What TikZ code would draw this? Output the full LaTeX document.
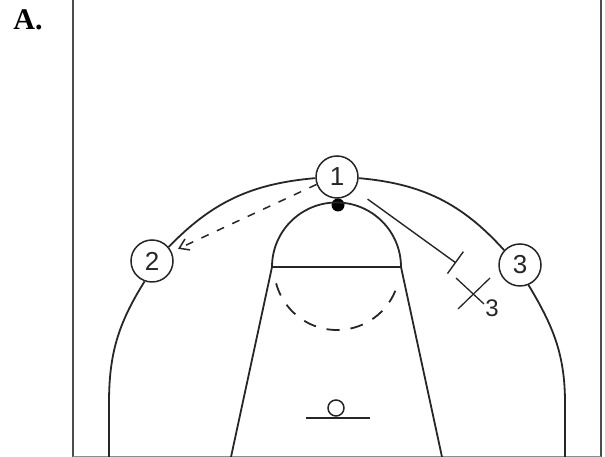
\documentclass[tikz,border=0pt]{standalone}
\usepackage{fontspec}
\setmainfont{Liberation Serif}
\newfontfamily\digitfont{Liberation Sans}
\usepackage{xcolor}
\usetikzlibrary{arrows.meta}

\begin{document}
\begin{tikzpicture}[
  x=1pt, y=1pt,
  player/.style={draw, circle, line width=1.5pt, black!85, minimum size=42pt, inner sep=0pt,
                 font=\digitfont\fontsize{26}{26}\selectfont},
  court/.style={line width=1.8pt, black!85},
  frame/.style={line width=2.4pt, black!70},
  pass/.style={-{Straight Barb[length=9pt,width=12pt]}, line width=1.5pt, black!85, dash pattern=on 8pt off 9pt},
  screen/.style={-{Bar[width=27pt]}, line width=1.4pt, black!85},
  defender/.style={line width=1.3pt, black!85}
]
\useasboundingbox (0,0) rectangle (605,457);

\node[font=\bfseries\fontsize{30}{30}\selectfont] (title) at (28,437) {A.};
\node[player] (one) at (337,280) {1};
\node[player] (two) at (152,196) {2};
\node[player] (three) at (520,192) {3};
\node[font=\digitfont\fontsize{24}{24}\selectfont, inner sep=0pt, black!85] (mark) at (492,149) {3};
\node[circle, fill=black, minimum size=13pt, inner sep=0pt] (ball) at (338,252) {};
\node[draw, circle, line width=1.5pt, black!85, minimum size=16pt, inner sep=0pt] (hoop) at (336,49) {};

\coordinate (leftbase) at (109,0);
\coordinate (leftside) at (109,54);
\coordinate (rightbase) at (565,0);
\coordinate (rightside) at (565,54);
\coordinate (laneleft) at (272,190);
\coordinate (laneright) at (401,190);
\coordinate (lanebl) at (231,0);
\coordinate (lanebr) at (442,0);
\coordinate (screenend) at (456,194);

% frame
\draw[frame] (73,457) -- (73,0);
\draw[frame] (601,457) -- (601,0);
\draw[line width=1.2pt, black!45] (73,0.6) -- (601,0.6);

% three point line
\draw[court] (one.183) to[out=185, in=46] (two.40);
\draw[court] (two.-110) to[out=238, in=90] (leftside) -- (leftbase);
\draw[court] (one.-3) to[out=-5, in=132] (three.137);
\draw[court] (three.-67) to[out=-59, in=90] (rightside) -- (rightbase);

% lane
\draw[court] (laneleft) -- (laneright);
\draw[court] (laneleft) -- (lanebl);
\draw[court] (laneright) -- (lanebr);
\draw[court] (laneleft) arc[start angle=180, end angle=0, radius=64.5];
\draw[court, dash pattern=on 13pt off 11pt] (337,190) ++(-165:63) arc[start angle=-165, end angle=-15, radius=63];

% basket
\draw[court] (306,39) -- (370,39);

% moves
\draw[pass, shorten >=7pt] (one.200) -- (two.25);
\draw[screen, shorten <=16pt] (one) -- (screenend);
\draw[defender] (456,179) -- (484,153);
\draw[defender] (490,179) -- (458,148);
\end{tikzpicture}
\end{document}
